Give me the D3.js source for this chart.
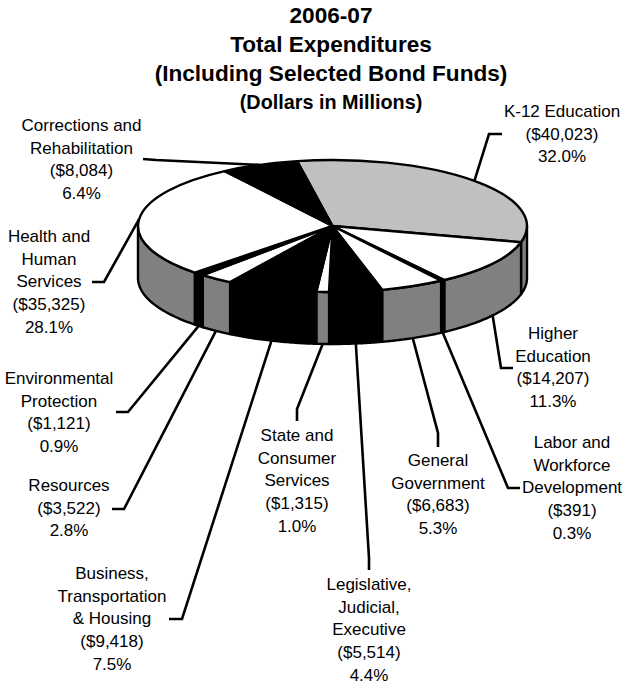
<!DOCTYPE html>
<html><head><meta charset="utf-8">
<script src="https://cdn.jsdelivr.net/npm/d3@7/dist/d3.min.js"></script>
<style>html,body{margin:0;padding:0;background:#fff}svg{display:block}text{font-family:"Liberation Sans",Arial,sans-serif;fill:#000}</style>
</head><body><svg id="c" width="626" height="685"></svg>
<script>
const titleLines = ["2006-07","Total Expenditures","(Including Selected Bond Funds)"];
const subtitle = "(Dollars in Millions)";
const categories = [["K-12 Education"],["Higher","Education"],["Labor and","Workforce","Development"],["General","Government"],["Legislative,","Judicial,","Executive"],["State and","Consumer","Services"],["Business,","Transportation","& Housing"],["Resources"],["Environmental","Protection"],["Health and","Human","Services"],["Corrections and","Rehabilitation"]];
const values = [40023,14207,391,6683,5514,1315,9418,3522,1121,35325,8084];
const percents = ["32.0%","11.3%","0.3%","5.3%","4.4%","1.0%","7.5%","2.8%","0.9%","28.1%","6.4%"];
const topFills = ["#c0c0c0","#fff","#000","#fff","#000","#fff","#000","#fff","#000","#fff","#000"];
const sideFills = ["#808080","#808080","#000","#808080","#000","#808080","#000","#808080","#000","#808080","#000"];
// layout
const labelX = [562,553,572,438,369,297,112,69,59,49,81.5];
const labelFirstMid = [111,333,442,460,584,435,573,485,378,236,125];
const leaderKnots = [
 [[489,134],[502,134]],
 [[501,368],[513,368]],
 [[508,488],[520,488]],
 [[438,433],[438,447]],
 [[369,558],[369,570]],
 [[297,409],[297,421]],
 [[182,619],[169,619]],
 [[124,509],[112,509]],
 [[128,412],[116,412]],
 [[104,282],[92,282]],
 [[156,160],[143,159]]
];
const cx=332.5, cy=226, rx=194.5, ry=66, depth=52, sw=2.4, lineH=22.7;
const rad=Math.PI/180, start=-10.5*rad;
const svg=d3.select("#c");
svg.append("rect").attr("width",626).attr("height",685).attr("fill","#fff");

const pie=d3.pie().sort(null).startAngle(start).endAngle(start+2*Math.PI);
const arcs=pie(values);
const px=a=>cx+rx*Math.sin(a), py=a=>cy-ry*Math.cos(a);
const line=d3.line();

// sides: only the front half of the rim (angles 90deg..270deg) is visible
const sideG=svg.append("g");
arcs.forEach((d,i)=>{
  [0,2*Math.PI].forEach(off=>{
    const a0=Math.max(d.startAngle+off,Math.PI/2), a1=Math.min(d.endAngle+off,1.5*Math.PI);
    if(a1<=a0) return;
    const ts=d3.range(0,41).map(k=>a0+(a1-a0)*k/40);
    const pts=ts.map(a=>[px(a),py(a)]).concat(ts.slice().reverse().map(a=>[px(a),py(a)+depth]));
    sideG.append("path").attr("d",line(pts)+"Z").attr("fill",sideFills[i]).attr("stroke","#000").attr("stroke-width",sw).attr("stroke-linejoin","round");
  });
});

// top face
const arcGen=d3.arc().innerRadius(0).outerRadius(1);
const topG=svg.append("g").attr("transform",`translate(${cx},${cy}) scale(${rx},${ry})`);
topG.selectAll("path").data(arcs).join("path")
  .attr("d",arcGen).attr("fill",(d,i)=>topFills[i]).attr("stroke","#000")
  .attr("stroke-width",sw).attr("stroke-linejoin","round").attr("vector-effect","non-scaling-stroke");

// leaders
const leadG=svg.append("g");
arcs.forEach((d,i)=>{
  const m=(d.startAngle+d.endAngle)/2, front=Math.cos(m)<0;
  const p0=[px(m),py(m)+(front?depth:0)];
  leadG.append("path").attr("d",line([p0,...leaderKnots[i]])).attr("fill","none").attr("stroke","#000").attr("stroke-width",sw+.2);
});

// labels
const fmt=d3.format("$,");
const labG=svg.append("g").attr("text-anchor","middle").attr("font-size",17);
categories.forEach((c,i)=>{
  const ls=[...c,`(${fmt(values[i])})`,percents[i]];
  ls.forEach((t,k)=>labG.append("text").attr("x",labelX[i]).attr("y",labelFirstMid[i]+6+k*lineH).text(t));
});

// title
const tG=svg.append("g").attr("text-anchor","middle").attr("font-weight","bold");
titleLines.forEach((t,i)=>tG.append("text").attr("x",331).attr("y",23+i*29).attr("font-size",22.6).text(t));
tG.append("text").attr("x",331).attr("y",109).attr("font-size",19.8).text(subtitle);
</script></body></html>
